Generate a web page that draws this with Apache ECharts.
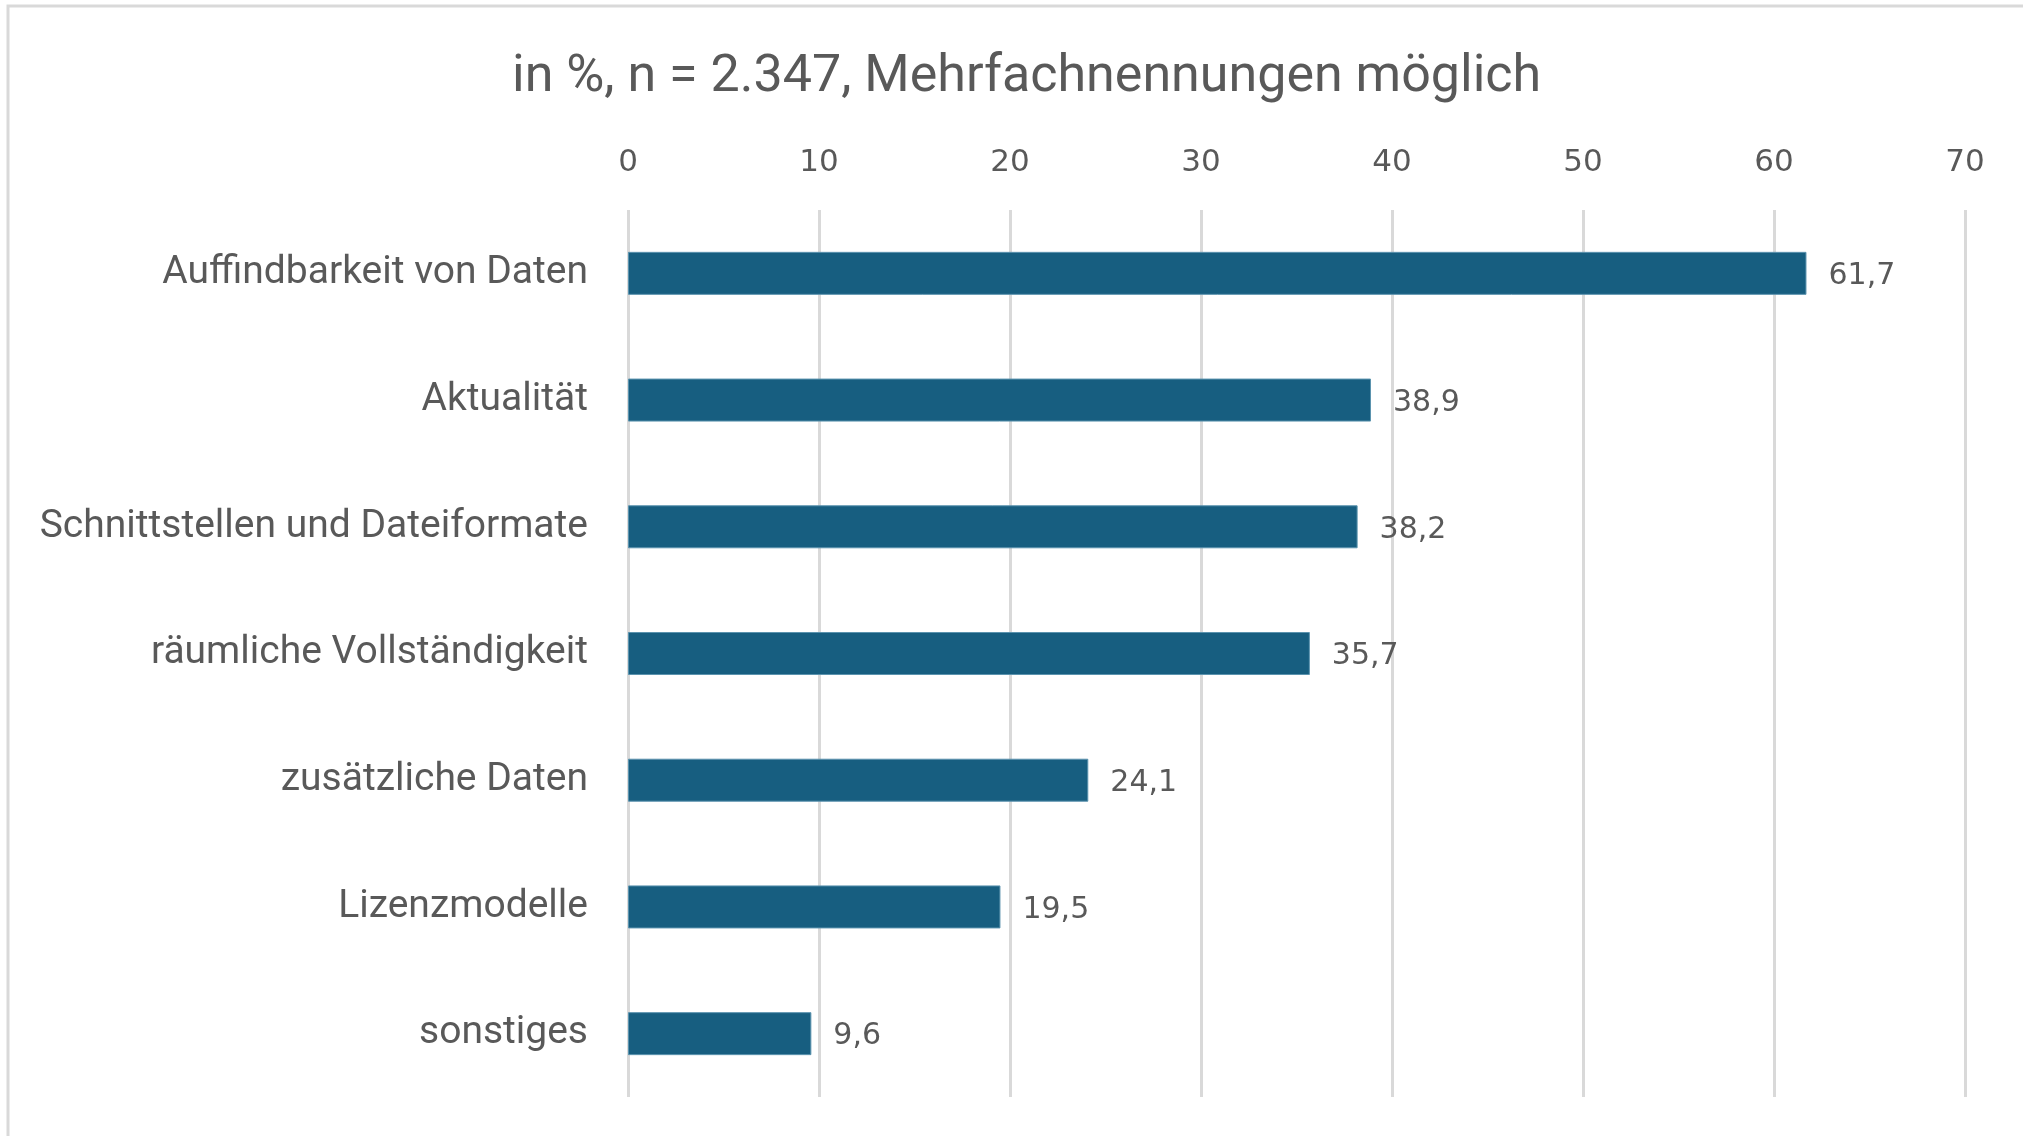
<!DOCTYPE html>
<html>
<head>
<meta charset="utf-8">
<script src="https://cdn.jsdelivr.net/npm/echarts@6/dist/echarts.min.js"></script>
<style>
  html, body { margin: 0; padding: 0; background: #ffffff; }
  #chart { width: 2023px; height: 1136px; }
</style>
</head>
<body>
<div id="chart"></div>
<script>
// Daten
const categories = [
  "Auffindbarkeit von Daten",
  "Aktualität",
  "Schnittstellen und Dateiformate",
  "räumliche Vollständigkeit",
  "zusätzliche Daten",
  "Lizenzmodelle",
  "sonstiges"
];
const values = [61.7, 38.9, 38.2, 35.7, 24.1, 19.5, 9.6];
const titleText = "in %, n = 2.347, Mehrfachnennungen möglich";

const textColor = "#595959";
const fontFam = "Roboto, 'Noto Sans', sans-serif";
const numFont = "'DejaVu Sans', Roboto, sans-serif";

const myChart = echarts.init(document.getElementById("chart"));
myChart.setOption({
  backgroundColor: "#ffffff",
  animation: false,
  title: {
    text: titleText,
    left: 507,
    top: 47,
    textStyle: {
      color: textColor,
      fontSize: 52,
      fontWeight: "normal",
      fontFamily: fontFam
    }
  },
  graphic: [
    {
      type: "rect",
      shape: { x: 8, y: 6, width: 2100, height: 1200 },
      style: { fill: "none", stroke: "#d9d9d9", lineWidth: 3 },
      silent: true
    }
  ],
  grid: {
    left: 628,
    right: 58,
    top: 210,
    bottom: 39,
    containLabel: false
  },
  xAxis: {
    type: "value",
    position: "top",
    min: 0,
    max: 70,
    interval: 10,
    axisLine: { show: false },
    axisTick: { show: false },
    splitLine: { lineStyle: { color: "#d9d9d9", width: 3 } },
    axisLabel: {
      color: textColor,
      fontSize: 31,
      fontFamily: numFont,
      margin: 32
    }
  },
  yAxis: {
    type: "category",
    inverse: true,
    data: categories,
    axisLine: { show: false },
    axisTick: { show: false },
    axisLabel: {
      color: textColor,
      fontSize: 39,
      fontFamily: fontFam,
      margin: 40,
      padding: [6, 0, 0, 0]
    }
  },
  series: [
    {
      type: "bar",
      data: values,
      barWidth: 43,
      itemStyle: {
        color: "#175e80",
        borderColor: "#5b93ae",
        borderWidth: 1
      },
      label: {
        show: true,
        position: "right",
        distance: 22,
        offset: [0, 3],
        color: textColor,
        fontSize: 30,
        fontFamily: numFont,
        formatter: function (p) {
          return p.value.toFixed(1).replace(".", ",");
        }
      }
    }
  ]
});
</script>
</body>
</html>
